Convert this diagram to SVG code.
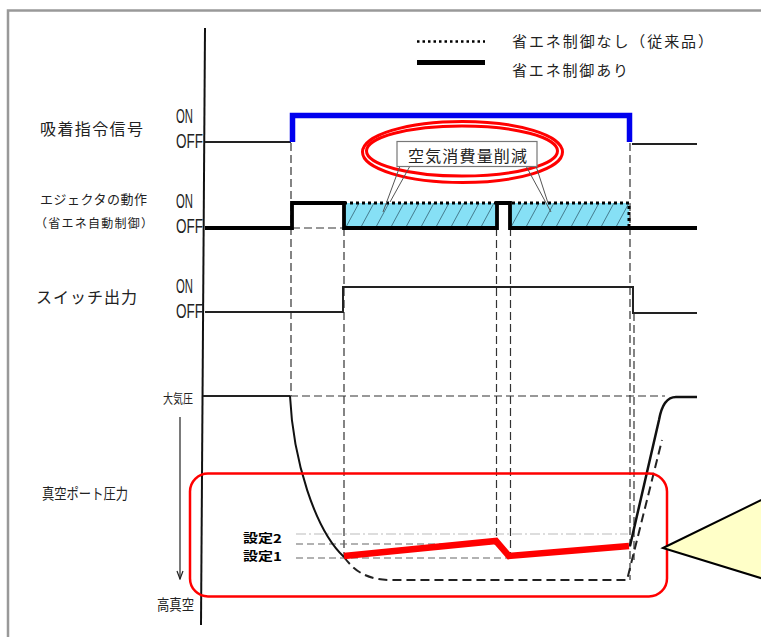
<svg xmlns="http://www.w3.org/2000/svg" width="761" height="637" viewBox="0 0 761 637">
<style>
.jp{font-family:"Noto Sans CJK JP","Noto Sans",sans-serif;fill:#222;}
.lat{font-family:"Liberation Sans",Arial,sans-serif;fill:#222;font-size:20px;}
.thin{fill:none;stroke:#222;stroke-width:2;}
.dash{fill:none;stroke:#333;stroke-width:1.2;stroke-dasharray:8 4;}
.gdash{fill:none;stroke:#666;stroke-width:1.2;stroke-dasharray:7 4;}
.faint{fill:none;stroke:#bbb;stroke-width:1.2;stroke-dasharray:10 3 2 3;}
.dots{fill:none;stroke:#000;stroke-width:3;stroke-dasharray:3 3;}
.red{fill:none;stroke:#f00;}
.set{font-family:"Noto Sans CJK JP",sans-serif;font-weight:bold;font-size:12px;fill:#000;}
</style>
<defs>
<pattern id="hatch" patternUnits="userSpaceOnUse" x="0" y="203" width="15" height="24">
<rect width="15" height="24" fill="#86e0f5"/>
<line x1="1" y1="24" x2="14" y2="0" stroke="#3c6e80" stroke-width="0.9"/>
</pattern>
<marker id="arr" markerWidth="10" markerHeight="10" refX="9" refY="5" orient="auto" markerUnits="userSpaceOnUse">
<path d="M1,2 L9,5 L1,8" fill="none" stroke="#222" stroke-width="1.2"/>
</marker>
</defs>
<rect width="761" height="637" fill="#fff"/>
<!-- frame -->
<path d="M8,637 V10.5 H761" fill="none" stroke="#999" stroke-width="2.5"/>

<!-- legend -->
<g id="legend">
<line x1="417" y1="41.5" x2="485" y2="41.5" stroke="#000" stroke-width="2.5" stroke-dasharray="2.5 3"/>
<line x1="417" y1="62.5" x2="485" y2="62.5" stroke="#000" stroke-width="5"/>
<text class="jp" x="512" y="47" font-size="15" textLength="201">省エネ制御なし（従来品）</text>
<text class="jp" x="512" y="76" font-size="15" textLength="116">省エネ制御あり</text>
</g>

<!-- labels -->
<g id="labels">
<text class="jp" x="40" y="135" font-size="16" textLength="103">吸着指令信号</text>
<text class="jp" x="40" y="204" font-size="13" textLength="107">エジェクタの動作</text>
<text class="jp" x="35" y="228" font-size="12" textLength="118">（省エネ自動制御）</text>
<text class="jp" x="36" y="303" font-size="16" textLength="101">スイッチ出力</text>
<text class="jp" x="42" y="499" font-size="15" textLength="86" lengthAdjust="spacingAndGlyphs">真空ポート圧力</text>
<text class="jp" x="163" y="403" font-size="13" textLength="30" lengthAdjust="spacingAndGlyphs">大気圧</text>
<text class="jp" x="157" y="610" font-size="15" textLength="37" lengthAdjust="spacingAndGlyphs">高真空</text>
<text class="lat" x="176" y="123" textLength="17" lengthAdjust="spacingAndGlyphs">ON</text>
<text class="lat" x="176" y="148" textLength="27" lengthAdjust="spacingAndGlyphs">OFF</text>
<text class="lat" x="176" y="208" textLength="17" lengthAdjust="spacingAndGlyphs">ON</text>
<text class="lat" x="176" y="233" textLength="27" lengthAdjust="spacingAndGlyphs">OFF</text>
<text class="lat" x="176" y="293" textLength="17" lengthAdjust="spacingAndGlyphs">ON</text>
<text class="lat" x="176" y="318" textLength="27" lengthAdjust="spacingAndGlyphs">OFF</text>
<text class="set" x="243" y="543" textLength="39" lengthAdjust="spacingAndGlyphs">設定2</text>
<text class="set" x="243" y="561" textLength="39" lengthAdjust="spacingAndGlyphs">設定1</text>
</g>

<!-- connectors / signal lines -->
<g id="connectors">
<line class="dash" x1="291" y1="143" x2="291" y2="396"/>
<line class="dash" x1="344" y1="228" x2="344" y2="556"/>
<line class="dash" x1="496.5" y1="228" x2="496.5" y2="540"/>
<line class="dash" x1="510.5" y1="228" x2="510.5" y2="554"/>
<line class="dash" x1="630" y1="143" x2="630" y2="580"/>
<line class="dash" x1="634" y1="313" x2="634" y2="560"/>
<line class="dash" x1="292" y1="228" x2="344" y2="228"/>
<line class="dash" x1="290" y1="396" x2="665" y2="396"/>
<line class="faint" x1="296" y1="534" x2="628" y2="534"/>
<line class="gdash" x1="296" y1="544" x2="495" y2="544"/>
<line class="gdash" x1="296" y1="558" x2="510" y2="558"/>

<line x1="205" y1="28" x2="201" y2="625" stroke="#111" stroke-width="2"/>
<line x1="180" y1="417" x2="180" y2="579" stroke="#222" stroke-width="1.2" marker-end="url(#arr)"/>

<path class="thin" d="M205,142 H291"/>
<path d="M292.5,142 V115.5 H629.5 V142" fill="none" stroke="#0000ee" stroke-width="5.5"/>
<path class="thin" d="M632,144 H697"/>

<rect x="344" y="203" width="152" height="24" fill="url(#hatch)"/>
<rect x="511" y="203" width="118" height="24" fill="url(#hatch)"/>
<path class="dots" d="M344,203 H629 V228"/>
<path d="M205,228 H292 V203 H344 V228 H497 V203 H510 V228 H697" fill="none" stroke="#000" stroke-width="3.8" stroke-linejoin="miter"/>

<path class="thin" d="M205,312 H343 V287 H633 V313 H697"/>

<path class="thin" d="M203,396 H290"/>
<path d="M290,396 C293,460 315,530 344,557" fill="none" stroke="#111" stroke-width="2"/>
<path d="M344,557 C355,572 368,580 392,580 L627,580 L662,440" fill="none" stroke="#222" stroke-width="2" stroke-dasharray="9 5"/>
<path d="M630,546 L659,420 Q663,397 676,397 L697,397" fill="none" stroke="#111" stroke-width="2.5"/>
<path d="M344,556 L496,541 L509,556 L629,546" fill="none" stroke="#f00" stroke-width="6.5" stroke-linejoin="miter"/>
</g>

<g id="reduction">
<ellipse class="red" cx="462.5" cy="152" rx="100" ry="30.5" stroke-width="3"/>
<ellipse class="red" cx="462" cy="151" rx="95.5" ry="25" stroke-width="3"/>
<line x1="400" y1="166" x2="383" y2="212" stroke="#555" stroke-width="1"/>
<line x1="410" y1="166" x2="390" y2="202" stroke="#555" stroke-width="1"/>
<line x1="526" y1="166" x2="551" y2="212" stroke="#555" stroke-width="1"/>
<line x1="536" y1="166" x2="548" y2="203" stroke="#555" stroke-width="1"/>
<rect x="397" y="141.5" width="140" height="25" fill="#fff" stroke="#777" stroke-width="1.2"/>
<text class="jp" x="408" y="162" font-size="16" textLength="119">空気消費量削減</text>
</g>

<g id="vacuum-highlight">
<rect class="red" x="190" y="473.5" width="477" height="123" rx="18" stroke-width="2.5"/>
<polygon points="663,548 790,486 790,587" fill="#ffffc8" stroke="#000" stroke-width="2"/>
</g>
</svg>
